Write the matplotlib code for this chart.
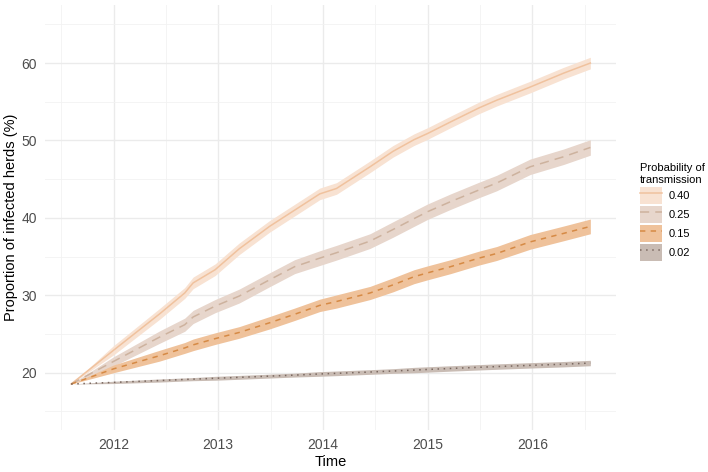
import matplotlib
matplotlib.use("Agg")
import matplotlib.pyplot as plt
from matplotlib.patches import Patch
from matplotlib.lines import Line2D
from matplotlib.legend_handler import HandlerTuple
import numpy as np

# ── Data ──
time = [2011.595, 2012.0, 2012.44, 2012.68, 2012.76, 2012.97, 2013.2, 2013.49, 2013.73,
        2013.97, 2014.13, 2014.45, 2014.67, 2014.87, 2015.0, 2015.22, 2015.49, 2015.66,
        2015.98, 2016.3, 2016.555]

p040 = [18.54, 22.9, 27.6, 30.3, 31.6, 33.3, 36.0, 38.9, 41.0, 43.1, 43.8, 46.6, 48.6,
        50.1, 50.9, 52.4, 54.2, 55.2, 56.9, 58.7, 60.0]
p025 = [18.54, 21.46, 24.6, 26.2, 27.2, 28.6, 29.9, 32.0, 33.7, 34.8, 35.5, 37.0, 38.5,
        39.9, 40.8, 42.1, 43.6, 44.5, 46.6, 47.9, 49.1]
p015 = [18.54, 20.5, 22.2, 23.2, 23.6, 24.4, 25.2, 26.45, 27.55, 28.7, 29.2, 30.3, 31.35,
        32.4, 32.9, 33.7, 34.8, 35.4, 36.9, 38.0, 38.9]
p002 = [18.54, 18.75, 18.99, 19.13, 19.17, 19.28, 19.4, 19.56, 19.69, 19.84, 19.92, 20.09,
        20.22, 20.34, 20.42, 20.55, 20.7, 20.79, 20.95, 21.1, 21.25]

# ribbon half-widths
hw040 = [0.0, 0.6, 0.7, 0.7, 0.75, 0.75, 0.75, 0.75, 0.75, 0.75, 0.75, 0.75, 0.75,
         0.75, 0.75, 0.75, 0.75, 0.75, 0.75, 0.75, 0.75]
hw025 = [0.0, 0.6, 0.8, 0.85, 0.85, 0.85, 0.9, 0.9, 0.9, 0.95, 0.95, 0.95, 1.0,
         1.0, 1.0, 1.0, 1.0, 1.0, 1.0, 1.0, 1.0]
hw015 = [0.0, 0.5, 0.7, 0.7, 0.75, 0.75, 0.75, 0.8, 0.8, 0.8, 0.85, 0.85, 0.9,
         0.9, 0.9, 0.9, 0.9, 0.9, 0.95, 0.95, 0.95]
hw002 = [0.0, 0.15, 0.2, 0.2, 0.2, 0.25, 0.25, 0.25, 0.25, 0.3, 0.3, 0.3, 0.3,
         0.35, 0.35, 0.35, 0.35, 0.35, 0.35, 0.35, 0.35]

labels = ["0.40", "0.25", "0.15", "0.02"]
series = [p040, p025, p015, p002]
halfw = [hw040, hw025, hw015, hw002]

FILL = ["#f8e2d2", "#e7d6cc", "#efc29b", "#c9bcb4"]
LINE = ["#f0c29e", "#cdb29e", "#d68a45", "#7a6860"]
DASH = ["-", (0, (6, 4)), (0, (3.5, 3.5)), (0, (1, 3))]

plt.rcParams.update({
    "font.family": ["Liberation Sans", "DejaVu Sans"],
})

fig = plt.figure(figsize=(7.08, 4.72), dpi=100)
W, H = 708, 472
L, R, T, B = 45, 616, 5, 430
ax = fig.add_axes([L / W, 1 - B / H, (R - L) / W, (B - T) / H])

t = np.array(time)
for vals, hw, fc in zip(series, halfw, FILL):
    v = np.array(vals)
    h = np.array(hw)
    ax.fill_between(t, v - h, v + h, color=fc, linewidth=0, zorder=2)

for vals, lc, ls in zip(series, LINE, DASH):
    ax.plot(t, vals, color=lc, linestyle=ls, linewidth=1.1, zorder=3)

ax.set_xlim(2011.345, 2016.80)
ax.set_ylim(12.6, 67.5)
ax.set_xticks([2012, 2013, 2014, 2015, 2016])
ax.set_xticks([2011.5, 2012.5, 2013.5, 2014.5, 2015.5, 2016.5], minor=True)
ax.set_yticks([20, 30, 40, 50, 60])
ax.set_yticks([15, 25, 35, 45, 55, 65], minor=True)
ax.grid(True, which="major", color="#ebebeb", linewidth=1.0, zorder=0)
ax.grid(True, which="minor", color="#f2f2f2", linewidth=0.6, zorder=0)
ax.set_axisbelow(True)
for s in ax.spines.values():
    s.set_visible(False)
ax.tick_params(which="both", length=0, labelsize=10, labelcolor="#4d4d4d", pad=6)
ax.set_xlabel("Time", fontsize=10.5, color="black", labelpad=2)
ax.set_ylabel("Proportion of infected herds (%)", fontsize=10.5, color="black")
ax.yaxis.set_label_coords((18 - L) / (R - L), 0.5)

handles = [(Patch(facecolor=fc, edgecolor="none"),
            Line2D([], [], color=lc, linestyle=ls, linewidth=1.1))
           for fc, lc, ls in zip(FILL, LINE, DASH)]
leg = fig.legend(handles, labels, title="Probability of\ntransmission",
                 loc="upper left", bbox_to_anchor=(640 / W, 1 - 163 / H),
                 handler_map={tuple: HandlerTuple(ndivide=1)},
                 frameon=False, fontsize=8, title_fontsize=8,
                 handlelength=1.98, handleheight=1.98, labelspacing=0.18,
                 handletextpad=0.6, borderpad=0, borderaxespad=0)
leg._legend_box.align = "left"

fig.savefig("out.png", dpi=100)
